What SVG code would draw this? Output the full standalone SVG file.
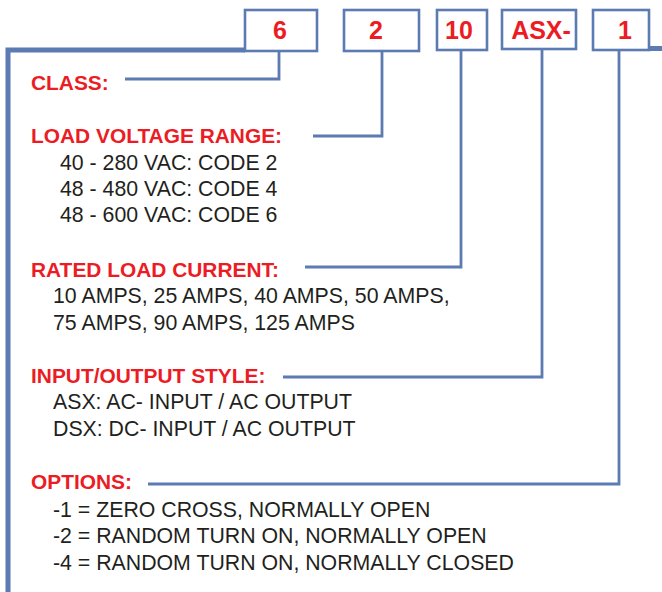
<svg xmlns="http://www.w3.org/2000/svg" width="662" height="592" viewBox="0 0 662 592">
<style>
.frame{fill:none;stroke:#5b7bb2;stroke-width:5}
.box{fill:#fff;stroke:#5b7bb2;stroke-width:2.6}
.conn{fill:none;stroke:#5b7bb2;stroke-width:2.8}
.code{font-family:"Liberation Sans",Arial,Helvetica,sans-serif;font-weight:bold;font-size:25px;fill:#ec1c24;text-anchor:middle}
.hd{font-family:"Liberation Sans",Arial,Helvetica,sans-serif;font-weight:bold;font-size:20.9px;fill:#ec1c24}
.tx{font-family:"Liberation Sans",Arial,Helvetica,sans-serif;font-size:21.3px;fill:#231f20}
</style>
<rect width="662" height="592" fill="#fff"/>
<g id="frame">
<path class="frame" d="M8,592 V50 H245"/>
<path class="frame" d="M649,48.5 H662"/>
</g>
<g id="connectors">
<path class="conn" d="M279,51 V79 H125"/>
<path class="conn" d="M382,51 V136 H313"/>
<path class="conn" d="M461,50 V267 H305"/>
<path class="conn" d="M542,49 V377 H283"/>
<path class="conn" d="M619,50 V484 H148"/>
</g>
<g id="box-6"><rect class="box" x="245" y="10" width="72" height="41"/><text class="code" x="280" y="39">6</text></g>
<g id="box-2"><rect class="box" x="344" y="10" width="75" height="41"/><text class="code" x="376" y="39">2</text></g>
<g id="box-10"><rect class="box" x="437" y="10" width="50" height="40"/><text class="code" x="459" y="39">10</text></g>
<g id="box-asx"><rect class="box" x="502" y="10" width="74" height="39"/><text class="code" x="541" y="38.5">ASX-</text></g>
<g id="box-1"><rect class="box" x="593" y="10" width="56" height="40"/><text class="code" x="625" y="39">1</text></g>
<g id="class"><text class="hd" x="31" y="90">CLASS:</text></g>
<g id="voltage">
<text class="hd" x="31" y="143">LOAD VOLTAGE RANGE:</text>
<text class="tx" x="60" y="170">40 - 280 VAC: CODE 2</text>
<text class="tx" x="60" y="196">48 - 480 VAC: CODE 4</text>
<text class="tx" x="60" y="222">48 - 600 VAC: CODE 6</text>
</g>
<g id="current">
<text class="hd" x="31" y="277">RATED LOAD CURRENT:</text>
<text class="tx" x="53" y="303">10 AMPS, 25 AMPS, 40 AMPS, 50 AMPS,</text>
<text class="tx" x="53" y="330">75 AMPS, 90 AMPS, 125 AMPS</text>
</g>
<g id="style">
<text class="hd" x="31" y="383">INPUT/OUTPUT STYLE:</text>
<text class="tx" x="53" y="409">ASX: AC- INPUT / AC OUTPUT</text>
<text class="tx" x="53" y="436">DSX: DC- INPUT / AC OUTPUT</text>
</g>
<g id="options">
<text class="hd" x="31" y="489">OPTIONS:</text>
<text class="tx" x="53" y="517">-1 = ZERO CROSS, NORMALLY OPEN</text>
<text class="tx" x="53" y="543">-2 = RANDOM TURN ON, NORMALLY OPEN</text>
<text class="tx" x="53" y="570">-4 = RANDOM TURN ON, NORMALLY CLOSED</text>
</g>
</svg>
